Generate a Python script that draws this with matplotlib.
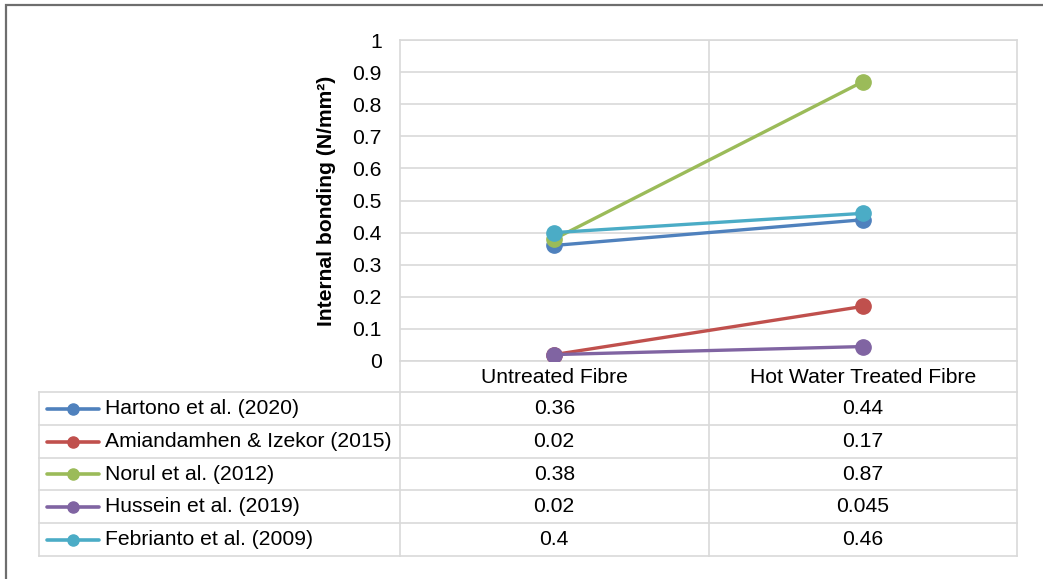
import matplotlib
matplotlib.use("Agg")
import matplotlib.pyplot as plt
from matplotlib.lines import Line2D
from matplotlib.patches import Rectangle

plt.rcParams['font.family'] = ['Liberation Sans', 'DejaVu Sans']

categories = ["Untreated Fibre", "Hot Water Treated Fibre"]
series_names = ["Hartono et al. (2020)", "Amiandamhen & Izekor (2015)", "Norul et al. (2012)",
                "Hussein et al. (2019)", "Febrianto et al. (2009)"]
hartono = [0.36, 0.44]
amiandamhen = [0.02, 0.17]
norul = [0.38, 0.87]
hussein = [0.02, 0.045]
febrianto = [0.4, 0.46]
series_values = [hartono, amiandamhen, norul, hussein, febrianto]
colors = ["#4F81BD", "#C0504D", "#9BBB59", "#8064A2", "#4BACC6"]
y_ticks = [0, 0.1, 0.2, 0.3, 0.4, 0.5, 0.6, 0.7, 0.8, 0.9, 1]
y_label = "Internal bonding (N/mm²)"

W, H = 1043, 579
FS = 15.2
fig = plt.figure(figsize=(W / 100, H / 100), dpi=100)


def fx(px):
    return px / W


def fy(py):
    return 1 - py / H


grid_c = "#D9D9D9"
# plot area in pixels
L, R, T, B = 400, 1017, 40, 361
ax = fig.add_axes([fx(L), fy(B), fx(R) - fx(L), fy(T) - fy(B)])
x = [0, 1]
for vals, c in zip(series_values, colors):
    ax.plot(x, vals, color=c, lw=2.4, marker='o', ms=11, solid_capstyle='round', zorder=3)
ax.set_xlim(-0.5, 1.5)
ax.set_ylim(0, 1)
ax.set_yticks(y_ticks)
ax.set_yticklabels([f"{t:g}" for t in y_ticks], fontsize=FS)
ax.set_xticks([0.5])
ax.set_xticklabels([])
ax.tick_params(length=0, pad=13)
ax.grid(True, color=grid_c, lw=1.2)
for s in ax.spines.values():
    s.set_color(grid_c)
    s.set_linewidth(1.2)
ax.set_ylabel(y_label, fontsize=FS, fontweight='bold', labelpad=12)

# data table below the plot
col_x = [39, L, (L + R) / 2, R]
rows_y = [B, 392, 425, 458, 490, 523, 556]
lw = 1.2
# header row verticals
for xx in col_x[1:]:
    fig.add_artist(Line2D([fx(xx), fx(xx)], [fy(rows_y[0]), fy(rows_y[-1])], color=grid_c, lw=lw))
fig.add_artist(Line2D([fx(col_x[0]), fx(col_x[0])], [fy(rows_y[1]), fy(rows_y[-1])], color=grid_c, lw=lw))
for yy in rows_y[1:]:
    fig.add_artist(Line2D([fx(col_x[0]), fx(R)], [fy(yy), fy(yy)], color=grid_c, lw=lw))

centers = [(col_x[1] + col_x[2]) / 2, (col_x[2] + col_x[3]) / 2]
for cx, cat in zip(centers, categories):
    fig.text(fx(cx), fy((rows_y[0] + rows_y[1]) / 2 + 1), cat, ha='center', va='center', fontsize=FS)

for i, (name, vals, c) in enumerate(zip(series_names, series_values, colors)):
    yc = (rows_y[i + 1] + rows_y[i + 2]) / 2
    fig.add_artist(Line2D([fx(47), fx(99)], [fy(yc), fy(yc)], color=c, lw=2.6,
                          solid_capstyle='round'))
    fig.add_artist(Line2D([fx(73)], [fy(yc)], color=c, marker='o', ms=8))
    fig.text(fx(105), fy(yc), name, ha='left', va='center', fontsize=FS)
    for cx, v in zip(centers, vals):
        fig.text(fx(cx), fy(yc), f"{v:g}", ha='center', va='center', fontsize=FS)

# outer chart border
fig.add_artist(Rectangle((fx(6), fy(620)), fx(1100) - fx(6), fy(5) - fy(620),
                         fill=False, edgecolor="#6E6E6E", lw=1.6, transform=fig.transFigure))

fig.savefig("out.png", dpi=100, facecolor='white')
